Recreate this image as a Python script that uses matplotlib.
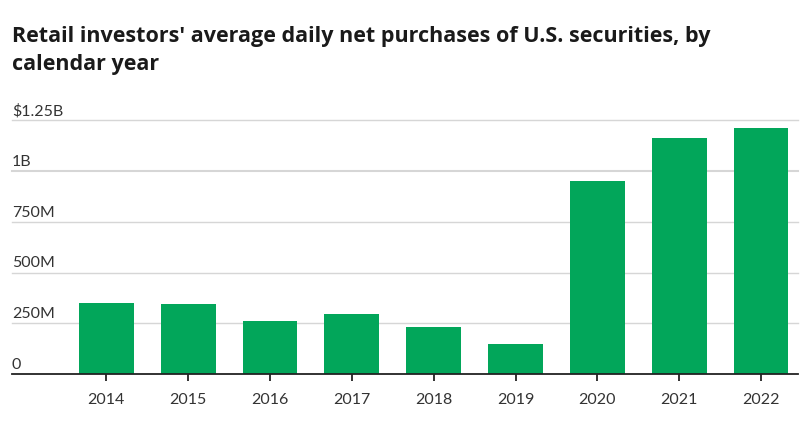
import matplotlib.pyplot as plt
import matplotlib.transforms as mtransforms

# Данные (в долларах)
years = ['2014', '2015', '2016', '2017', '2018', '2019', '2020', '2021', '2022']
purchases = [0.351e9, 0.346e9, 0.262e9, 0.297e9, 0.232e9, 0.148e9, 0.949e9, 1.161e9, 1.210e9]
tick_values = [0, 250e6, 500e6, 750e6, 1e9, 1.25e9]
tick_labels = ['0', '250M', '500M', '750M', '1B', '$1.25B']

plt.rcParams['font.family'] = ['Lato', 'DejaVu Sans']

fig = plt.figure(figsize=(8.12, 4.22), dpi=100)
ax = fig.add_axes([12 / 812, 1 - 374 / 422, (798 - 12) / 812, (374 - 120.3) / 422])

x = list(range(len(years)))
ax.bar(x, purchases, width=0.67, color='#02a65a', zorder=3)

ax.set_xlim(-1.153, 8.452)
ax.set_ylim(0, 1.25e9)

# Сетка и подписи оси Y внутри графика
for v, lab in zip(tick_values, tick_labels):
    if v > 0:
        ax.axhline(v, color='#d6d6d6', lw=1.5 if v == 1e9 else 1.0, zorder=1, clip_on=False)
    tr = mtransforms.offset_copy(ax.get_yaxis_transform(), fig=fig, x=0, y=1.5, units='points')
    ax.text(0, v, lab, transform=tr, ha='left', va='bottom', fontsize=11.5,
            color='#333333', clip_on=False)

ax.set_yticks([])
ax.set_xticks(x)
ax.set_xticklabels(years, fontsize=11.5, color='#333333')
ax.tick_params(axis='x', length=5, width=1.3, color='#222222', pad=9)

for side in ['top', 'right', 'left']:
    ax.spines[side].set_visible(False)
ax.spines['bottom'].set_color('#222222')
ax.spines['bottom'].set_linewidth(1.3)
ax.spines['bottom'].set_zorder(4)

fig.text(12 / 812, 1 - 26 / 422,
         "Retail investors' average daily net purchases of U.S. securities, by\ncalendar year",
         ha='left', va='top', fontsize=15.5, fontweight='bold', color='#1a1a1a',
         family=['Open Sans', 'DejaVu Sans'], linespacing=1.45)

fig.savefig('out.png', dpi=100)
